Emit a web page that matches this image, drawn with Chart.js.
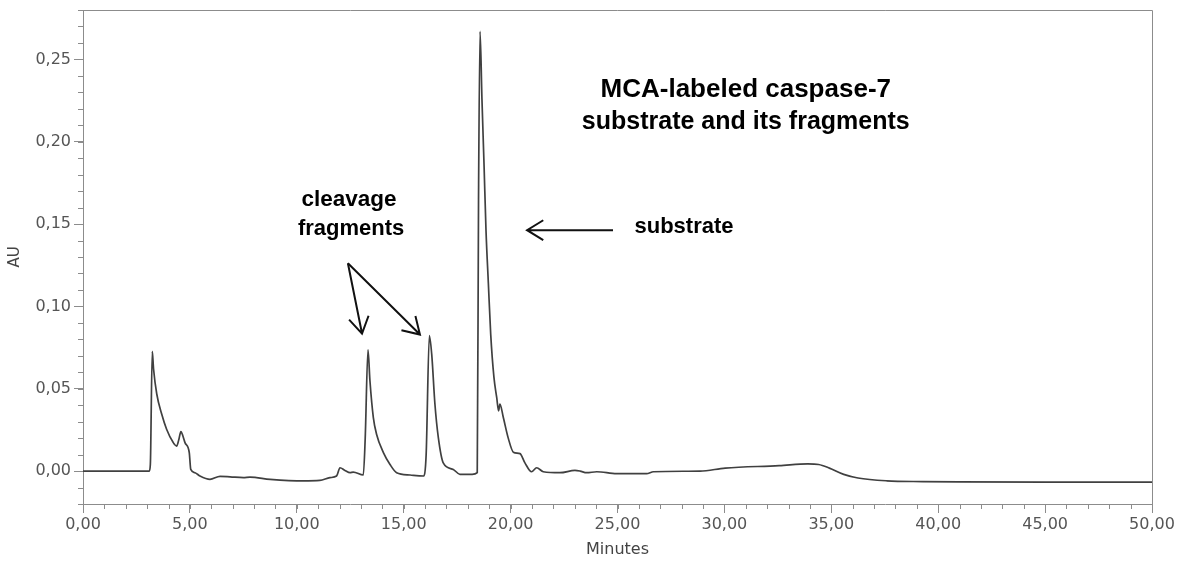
<!DOCTYPE html>
<html>
<head>
<meta charset="utf-8">
<script src="https://cdn.jsdelivr.net/npm/chart.js@4.4.1/dist/chart.umd.min.js"></script>
<style>
  html, body { margin: 0; padding: 0; background: #fff; }
</style>
</head>
<body>
<canvas id="mygraph" width="1186" height="564"></canvas>
<script>
// chromatogram trace (minutes / AU)
const minutes = [0, 3.1, 3.15, 3.24, 3.3, 3.45, 3.68, 3.91, 4.22, 4.38, 4.48, 4.58, 4.68, 4.77, 4.97, 5.04,
  5.24, 5.47, 5.94, 6.41, 6.88, 7.5, 7.81, 8.75, 10.3, 11.08, 11.55, 11.86, 12.02, 12.25, 12.49, 12.64,
  13.11, 13.2, 13.33, 13.42, 13.58, 13.73, 14.05, 14.36, 14.67, 15.3, 15.92, 16.05, 16.2, 16.31, 16.46,
  16.62, 16.85, 17.32, 17.63, 18.2, 18.44, 18.5, 18.57, 18.66, 18.76, 18.85, 18.96, 19.07, 19.22, 19.35,
  19.44, 19.5, 19.66, 19.89, 20.13, 20.44, 20.67, 20.98, 21.22, 21.53, 22.31, 23.01, 23.25, 23.56, 24.03,
  24.96, 26.36, 26.68, 28.86, 30.04, 32.56, 33.9, 34.41, 34.91, 35.58, 36.25, 37.59, 39.27, 40.95, 45, 50];
const au = [0, 0, 0.004, 0.0727, 0.062, 0.0468, 0.0346, 0.0254, 0.0173, 0.0152, 0.019, 0.024, 0.021, 0.0173, 0.0112, 0.001,
  -0.001, -0.003, -0.005, -0.0032, -0.0035, -0.004, -0.0037, -0.005, -0.006, -0.0057, -0.004, -0.003, 0.002, 0.0004, -0.001, -0.0006,
  -0.0024, 0.02, 0.0736, 0.055, 0.0325, 0.0224, 0.0112, 0.004, -0.001, -0.0024, -0.003, 0.01, 0.0823, 0.071, 0.0407,
  0.0203, 0.005, 0.001, -0.002, -0.002, -0.001, 0.165, 0.267, 0.226, 0.185, 0.146, 0.114, 0.083, 0.057, 0.0447,
  0.0366, 0.0407, 0.0325, 0.02, 0.0115, 0.0106, 0.005, -0.0004, 0.002, -0.0004, -0.001, 0.0004, 0, -0.001, -0.0004,
  -0.0016, -0.0016, -0.0004, 0, 0.0018, 0.0033, 0.0044, 0.004, 0.0018, -0.002, -0.0042, -0.0059, -0.0064, -0.0066, -0.0067, -0.0067];

const xTicks = [0, 5, 10, 15, 20, 25, 30, 35, 40, 45, 50];
const yTicks = [0, 0.05, 0.10, 0.15, 0.20, 0.25];

// notes drawn on the plot, placed in data units (minutes, AU)
const notes = [
  { text: 'MCA-labeled caspase-7', x: 31.0, y: 0.2274, size: 26 },
  { text: 'substrate and its fragments', x: 31.0, y: 0.2079, size: 25 },
  { text: 'cleavage', x: 12.44, y: 0.161, size: 22.5 },
  { text: 'fragments', x: 12.54, y: 0.1433, size: 22 },
  { text: 'substrate', x: 28.11, y: 0.1445, size: 22 }
];
const arrowFrom = [[24.79, 0.1463], [12.39, 0.1262], [12.39, 0.1262]];
const arrowTo = [[20.77, 0.1463], [13.05, 0.0835], [15.76, 0.0829]];

const fmt = v => Number(v).toFixed(2).replace('.', ',');
const axisGrey = '#8c8c8c';

const decor = {
  id: 'decor',
  afterDraw(chart) {
    const {ctx, chartArea: a, scales: {x, y}} = chart;
    ctx.save();
    // frame top/right + minor ticks
    ctx.strokeStyle = axisGrey;
    ctx.lineWidth = 1;
    ctx.beginPath();
    ctx.moveTo(a.left, a.top + 0.5);
    ctx.lineTo(a.right + 0.5, a.top + 0.5);
    ctx.lineTo(a.right + 0.5, a.bottom);
    for (let m = x.min; m <= x.max; m += 1) {
      const px = Math.round(x.getPixelForValue(m)) + 0.5;
      ctx.moveTo(px, a.bottom);
      ctx.lineTo(px, a.bottom + 5);
    }
    for (let i = -2; i <= 28; i++) {
      const py = Math.round(y.getPixelForValue(i / 100)) + 0.5;
      ctx.moveTo(a.left - 5, py);
      ctx.lineTo(a.left, py);
    }
    ctx.stroke();

    // arrows
    ctx.strokeStyle = '#111';
    ctx.lineWidth = 2;
    arrowFrom.forEach((f, i) => {
      const x0 = x.getPixelForValue(f[0]), y0 = y.getPixelForValue(f[1]);
      const x1 = x.getPixelForValue(arrowTo[i][0]), y1 = y.getPixelForValue(arrowTo[i][1]);
      const ang = Math.atan2(y1 - y0, x1 - x0);
      const len = 19, spread = 0.55;
      ctx.beginPath();
      ctx.moveTo(x0, y0);
      ctx.lineTo(x1, y1);
      ctx.moveTo(x1 - len * Math.cos(ang - spread), y1 - len * Math.sin(ang - spread));
      ctx.lineTo(x1, y1);
      ctx.lineTo(x1 - len * Math.cos(ang + spread), y1 - len * Math.sin(ang + spread));
      ctx.stroke();
    });

    // text notes
    ctx.fillStyle = '#000';
    ctx.textAlign = 'center';
    ctx.textBaseline = 'alphabetic';
    notes.forEach(n => {
      ctx.font = 'bold ' + n.size + 'px "Liberation Sans", Arial, sans-serif';
      ctx.fillText(n.text, x.getPixelForValue(n.x), y.getPixelForValue(n.y));
    });
    ctx.restore();
  }
};

const ctx = document.getElementById('mygraph').getContext('2d');
const tickFont = {family: '"DejaVu Sans", sans-serif', size: 16};

const chart = new Chart(ctx, {
  type: 'line',
  data: {
    datasets: [{
      data: minutes.map((m, i) => ({x: m, y: au[i]})),
      borderColor: '#404040',
      borderWidth: 1.7,
      pointRadius: 0,
      cubicInterpolationMode: 'monotone',
      fill: false
    }]
  },
  options: {
    responsive: false,
    animation: false,
    layout: {padding: {top: 10, right: 34, left: 0, bottom: 0}},
    plugins: {legend: {display: false}, tooltip: {enabled: false}},
    scales: {
      x: {
        type: 'linear',
        min: 0, max: 50,
        afterBuildTicks: s => { s.ticks = xTicks.map(v => ({value: v})); },
        afterFit: s => { s.height = 60; },
        ticks: {callback: fmt, font: tickFont, color: '#555', padding: 2, maxRotation: 0, autoSkip: false},
        grid: {drawOnChartArea: false, tickLength: 9, color: axisGrey},
        border: {color: axisGrey},
        title: {display: true, text: 'Minutes', font: {family: '"DejaVu Sans", sans-serif', size: 16}, color: '#444', padding: {top: 0, bottom: 5}}
      },
      y: {
        min: -0.02, max: 0.28,
        afterBuildTicks: s => { s.ticks = yTicks.map(v => ({value: v})); },
        afterFit: s => { s.width = 83; s.paddingTop = 0; s.paddingBottom = 0; },
        ticks: {callback: fmt, font: tickFont, color: '#555', padding: 3},
        grid: {drawOnChartArea: false, tickLength: 9, color: axisGrey},
        border: {color: axisGrey},
        title: {display: true, text: 'AU', font: {family: '"DejaVu Sans", sans-serif', size: 15}, color: '#444', padding: {top: 6, bottom: 0}}
      }
    }
  },
  plugins: [decor]
});
</script>
</body>
</html>
